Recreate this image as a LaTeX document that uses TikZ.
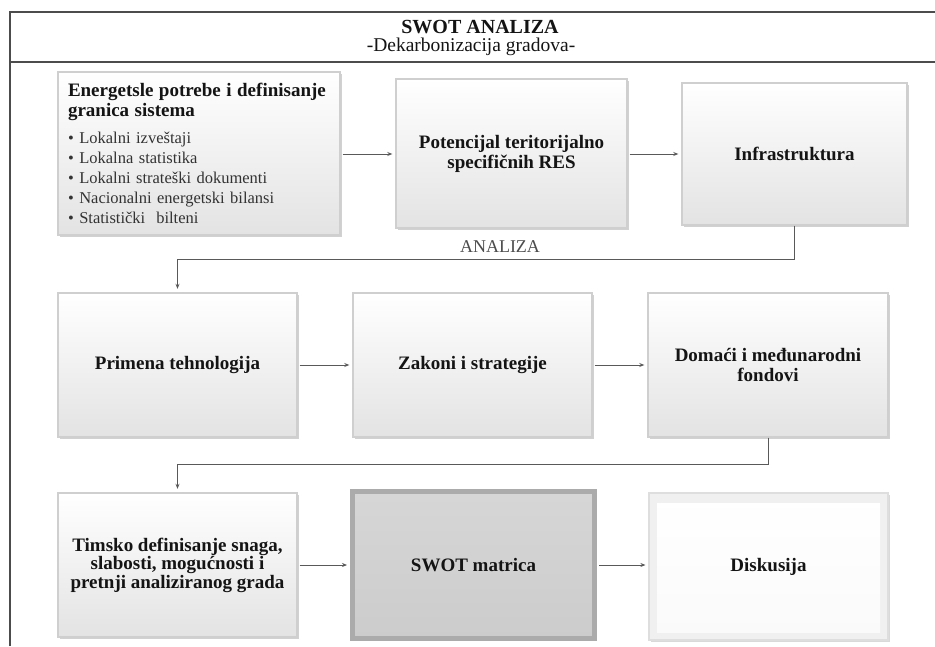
\documentclass[tikz,border=0pt]{standalone}
\usepackage{fontspec}
\setmainfont{Liberation Serif}
\usetikzlibrary{arrows.meta,shadows}
\begin{document}
\begin{tikzpicture}[x=1pt,y=-1pt,
  framel/.style={draw=black!70, line width=1.3pt},
  boxst/.style={rectangle, draw=gray!38, line width=1.4pt,
    top color=white, middle color=white, bottom color=gray!22,
    drop shadow={shadow xshift=1.5pt, shadow yshift=-1.5pt, opacity=0.18, fill=black},
    inner sep=0pt, align=center, text=black!92,
    font=\bfseries\fontsize{19}{20}\selectfont},
  swotbox/.style={rectangle, draw=gray!66, line width=5pt,
    top color=gray!32, bottom color=gray!40,
    inner sep=0pt, align=center, text=black!92,
    font=\bfseries\fontsize{19}{20}\selectfont},
  bevelbox/.style={rectangle, draw=gray!26, line width=1.2pt, fill=gray!12,
    drop shadow={shadow xshift=1.5pt, shadow yshift=-1.5pt, opacity=0.15, fill=black},
    path picture={\shade[top color=white, bottom color=gray!4]
      ([shift={(8pt,-10pt)}]path picture bounding box.north west)
      rectangle ([shift={(-8pt,8pt)}]path picture bounding box.south east);},
    inner sep=0pt, align=center, text=black!92,
    font=\bfseries\fontsize{19}{20}\selectfont},
  conn/.style={draw=black!65, line width=1pt, -{Stealth[length=5pt,width=4pt]},
    shorten >=3pt, shorten <=2pt},
  loopconn/.style={draw=black!65, line width=1pt, -{Stealth[length=5pt,width=4pt]},
    shorten >=3.5pt},
  titlest/.style={font=\bfseries\fontsize{20}{22}\selectfont, text=black!92, inner sep=0pt},
  subst/.style={font=\fontsize{19.5}{22}\selectfont, text=black!92, inner sep=0pt},
  labst/.style={font=\fontsize{18}{20}\selectfont, text=black!70, inner sep=0pt}
]
\useasboundingbox (0,0) rectangle (935,646);
\fill[white] (0,0) rectangle (935,646);

% frame
\draw[framel] (10,646) -- (10,12) -- (935,12);
\draw[framel] (10,62) -- (935,62);

% title
\node[titlest] (title) at (480,27) {SWOT ANALIZA};
\node[subst] (subtitle) at (471,47) {-Dekarbonizacija gradova-};

% row 1
\node[boxst, minimum width=282, minimum height=163, text width=262pt, align=left,
  font=\fontsize{16.5}{20}\selectfont, text=black!80] (b1) at (199,153.5)
  {{\bfseries\fontsize{19}{20}\selectfont\color{black!92}Energetsle potrebe i definisanje}\\
   {\bfseries\fontsize{19}{20}\selectfont\color{black!92}granica sistema}\\[7pt]
   • Lokalni izveštaji\\
   • Lokalna statistika\\
   • Lokalni strateški dokumenti\\
   • Nacionalni energetski bilansi\\
   • Statistički\ \ bilteni};
\node[boxst, minimum width=231, minimum height=149] (b2) at (511.5,153.5)
  {Potencijal teritorijalno\\specifičnih RES};
\node[boxst, minimum width=225, minimum height=142] (b3) at (794.5,154)
  {Infrastruktura};

% row 2
\node[boxst, minimum width=239, minimum height=144] (b4) at (177.5,365)
  {Primena tehnologija};
\node[boxst, minimum width=239, minimum height=144] (b5) at (472.5,365)
  {Zakoni i strategije};
\node[boxst, minimum width=240, minimum height=144] (b6) at (768,365)
  {Domaći i međunarodni\\fondovi};

% row 3
\node[boxst, minimum width=239, minimum height=144,
  font=\bfseries\fontsize{19}{18.5}\selectfont] (b7) at (177.5,565)
  {Timsko definisanje snaga,\\slabosti, mogućnosti i\\pretnji analiziranog grada};
\node[swotbox, minimum width=242, minimum height=147] (b8) at (473.5,565)
  {SWOT matrica};
\node[bevelbox, minimum width=239, minimum height=147] (b9) at (768.5,566.5)
  {Diskusija};

% connectors
\draw[conn] (b1.east |- 0,154) -- (b2.west |- 0,154);
\draw[conn] (b2.east |- 0,154) -- (b3.west |- 0,154);
\draw[conn] (b4) -- (b5);
\draw[conn] (b5) -- (b6);
\draw[conn] (b7.east |- 0,565) -- (b8.west |- 0,565);
\draw[conn] (b8.east |- 0,565) -- (b9.west |- 0,565);

\coordinate (k1) at (0,259);
\coordinate (k2) at (0,464);
\draw[loopconn] (b3.south) -- (b3.south |- k1) -| (b4.north);
\draw[loopconn] (b6.south) -- (b6.south |- k2) -| (b7.north);

\node[labst] (analiza) at (500,247) {ANALIZA};
\end{tikzpicture}
\end{document}
